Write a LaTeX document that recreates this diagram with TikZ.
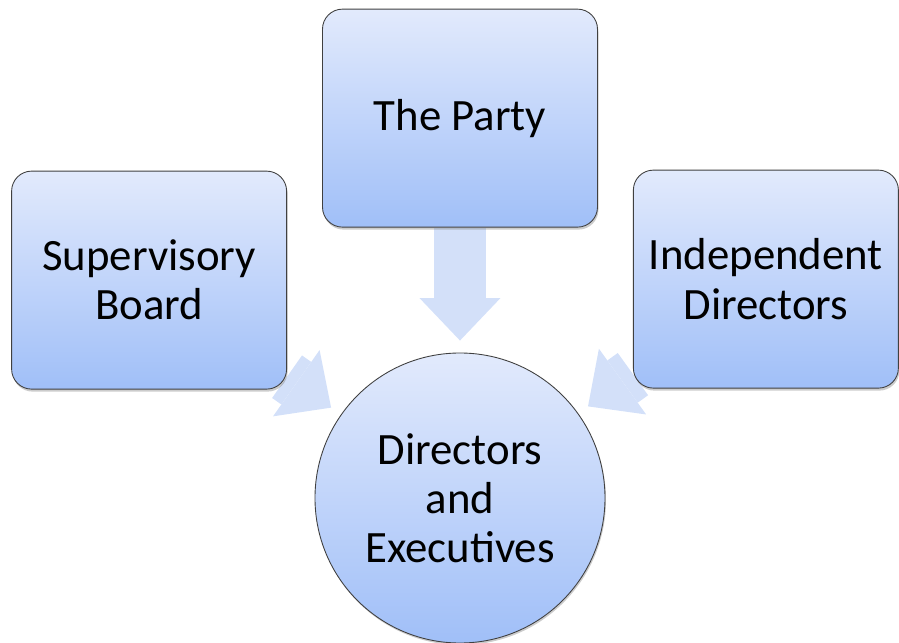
\documentclass[tikz,border=0pt]{standalone}
\usepackage{fontspec}
\setmainfont{Carlito}
\usetikzlibrary{positioning, arrows.meta, shadows, backgrounds}
\definecolor{boxtop}{RGB}{226,234,252}
\definecolor{boxbottom}{RGB}{160,191,248}
\definecolor{flowfill}{RGB}{211,224,249}
\definecolor{boxline}{RGB}{64,64,64}

\begin{document}
\begin{tikzpicture}[node distance=2.5cm,
    block/.style={rectangle, rounded corners=0.4cm, draw=boxline, line width=0.5pt,
        top color=boxtop, bottom color=boxbottom, minimum width=5.5cm, minimum height=4.36cm,
        align=center, font=\fontsize{25.5}{28}\selectfont,
        drop shadow={shadow xshift=0.02cm, shadow yshift=-0.05cm, opacity=0.4}},
    hub/.style={circle, draw=boxline, line width=0.5pt, top color=boxtop, bottom color=boxbottom,
        minimum size=5.8cm, inner sep=0pt, align=center, font=\fontsize{25.5}{28}\selectfont,
        drop shadow={shadow xshift=0.02cm, shadow yshift=-0.04cm, opacity=0.4}},
    flow/.style={color=flowfill, line width=1.04cm,
        -{Triangle[width=1.62cm, length=0.85cm, line width=0pt]}, shorten >=0.24cm}]
        \useasboundingbox (-9.2,9.96) rectangle (8.78,-2.88);

        \node[hub] (dir) at (0,0) {Directors\\and\\Executives};
        \node[block] (party) [above=of dir] {The Party};
        \node[block] (board) [left=0.7cm of party, yshift=-3.24cm] {Supervisory\\Board};
        \node[block, minimum width=5.3cm] (indep) [right=0.7cm of party, yshift=-3.22cm] {Independent\\Directors};

        \begin{scope}[on background layer]
            \path[flow] (party) edge (dir);
            \path[flow] (board) edge (dir);
            \path[flow] (indep) edge (dir);
        \end{scope}
    \end{tikzpicture}
\end{document}
